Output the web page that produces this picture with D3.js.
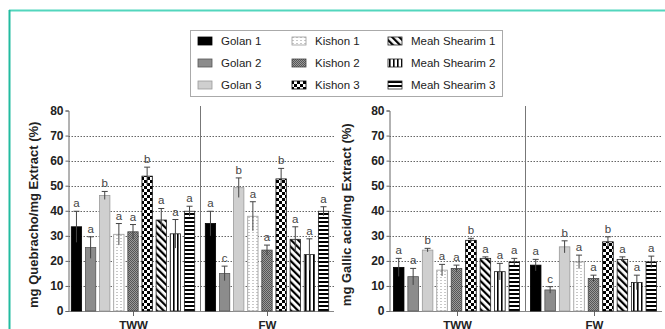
<!DOCTYPE html>
<html>
<head>
<meta charset="utf-8">
<script src="https://cdn.jsdelivr.net/npm/d3@7/dist/d3.min.js"></script>
<style>
  html, body { margin: 0; padding: 0; background: #fff; }
  svg { display: block; font-family: "Liberation Sans", Arial, sans-serif; }
</style>
</head>
<body>
<svg id="chart" width="665" height="329"></svg>
<script>
// Treatment groups and extract sources
const groups = ["TWW", "FW"];
const series = ["Golan 1", "Golan 2", "Golan 3", "Kishon 1", "Kishon 2", "Kishon 3",
                "Meah Shearim 1", "Meah Shearim 2", "Meah Shearim 3"];
const yTicks = [0, 10, 20, 30, 40, 50, 60, 70, 80];

// Condensed tannins (mg Quebracho / mg extract, %)
const quebrachoTWW    = [33.6, 25.3, 46.1, 30.6, 31.6, 53.8, 36.3, 30.8, 39.8];
const quebrachoTWWErr = [6.2, 4.3, 1.6, 4.3, 2.9, 3.6, 4.6, 5.7, 2.0];
const quebrachoTWWSig = ["a", "a", "b", "a", "a", "b", "a", "a", "a"];
const quebrachoFW     = [34.9, 15.0, 49.2, 37.8, 24.3, 52.7, 28.6, 22.5, 39.8];
const quebrachoFWErr  = [4.9, 2.9, 3.9, 5.8, 2.0, 4.2, 5.0, 6.3, 1.8];
const quebrachoFWSig  = ["a", "c", "b", "a", "a", "b", "a", "a", "a"];

// Total phenolics (mg Gallic acid / mg extract, %)
const gallicTWW    = [17.4, 13.7, 24.3, 16.3, 17.0, 28.2, 21.0, 15.7, 19.6];
const gallicTWWErr = [3.6, 3.3, 0.7, 2.3, 1.3, 0.8, 0.6, 3.3, 1.4];
const gallicTWWSig = ["a", "a", "b", "a", "a", "b", "a", "a", "a"];
const gallicFW     = [18.3, 8.4, 25.6, 19.6, 13.0, 27.6, 20.6, 11.4, 19.6];
const gallicFWErr  = [2.3, 1.3, 2.4, 2.7, 1.3, 2.0, 1.0, 2.9, 2.3];
const gallicFWSig  = ["a", "c", "b", "a", "a", "b", "a", "a", "a"];

const svg = d3.select("#chart");
const defs = svg.append("defs");

// Fill patterns for each source
function pattern(id, w, h, build, transform) {
  const p = defs.append("pattern").attr("id", id)
    .attr("patternUnits", "userSpaceOnUse").attr("width", w).attr("height", h);
  if (transform) p.attr("patternTransform", transform);
  build(p);
}
pattern("pK1", 4, 3, p => {
  p.append("rect").attr("width", 4).attr("height", 3).attr("fill", "#fff");
  p.append("rect").attr("x", 0).attr("y", 1).attr("width", 2).attr("height", 0.8).attr("fill", "#bbb");
});
pattern("pK2", 2, 2, p => {
  p.append("rect").attr("width", 2).attr("height", 2).attr("fill", "#9a9a9a");
  p.append("rect").attr("width", 1).attr("height", 1).attr("fill", "#555");
  p.append("rect").attr("x", 1).attr("y", 1).attr("width", 1).attr("height", 1).attr("fill", "#555");
});
pattern("pK3", 6, 6, p => {
  p.append("rect").attr("width", 6).attr("height", 6).attr("fill", "#fff");
  p.append("rect").attr("width", 3).attr("height", 3).attr("fill", "#000");
  p.append("rect").attr("x", 3).attr("y", 3).attr("width", 3).attr("height", 3).attr("fill", "#000");
});
pattern("pM1", 5, 5, p => {
  p.append("rect").attr("width", 5).attr("height", 5).attr("fill", "#fff");
  p.append("rect").attr("x", 0).attr("width", 2.2).attr("height", 5).attr("fill", "#000");
}, "rotate(-45)");
pattern("pM2", 4, 4, p => {
  p.append("rect").attr("width", 4).attr("height", 4).attr("fill", "#fff");
  p.append("rect").attr("x", 1).attr("width", 1.6).attr("height", 4).attr("fill", "#000");
});
pattern("pM3", 4, 4, p => {
  p.append("rect").attr("width", 4).attr("height", 4).attr("fill", "#fff");
  p.append("rect").attr("y", 1).attr("width", 4).attr("height", 2).attr("fill", "#000");
});

const fills = d3.scaleOrdinal().domain(series).range([
  "#000", "#8c8c8c", "#cfcfcf", "url(#pK1)", "url(#pK2)", "url(#pK3)",
  "url(#pM1)", "url(#pM2)", "url(#pM3)"
]);
const strokes = d3.scaleOrdinal().domain(series).range([
  "#000", "#555", "#999", "#999", "#444", "#000", "#222", "#222", "#222"
]);

// Page frame
svg.append("line").attr("x1", 9).attr("x2", 665).attr("y1", 10.5).attr("y2", 10.5)
  .attr("stroke", "#52d6bd").attr("stroke-width", 2);
svg.append("line").attr("x1", 9.5).attr("x2", 9.5).attr("y1", 10).attr("y2", 329)
  .attr("stroke", "#22bba0").attr("stroke-width", 2);

// Legend
const legend = svg.append("g");
legend.append("rect").attr("x", 190.5).attr("y", 30.5).attr("width", 312).attr("height", 66)
  .attr("fill", "#fff").attr("stroke", "#aaa").attr("stroke-width", 1);
const colX = [198, 292, 388];
const rowY = [41, 63, 85];
series.forEach((s, i) => {
  const c = Math.floor(i / 3), r = i % 3;
  const x = colX[c], y = rowY[r];
  legend.append("rect").attr("x", x).attr("y", y - 4).attr("width", 14).attr("height", 8)
    .attr("fill", fills(s)).attr("stroke", strokes(s)).attr("stroke-width", 0.8);
  legend.append("text").attr("x", x + 23).attr("y", y).attr("dy", "0.35em")
    .attr("font-size", 11.5).attr("fill", "#222").text(s);
});

function drawPanel(opts) {
  const g = svg.append("g");
  const y = d3.scaleLinear().domain([0, 80]).range([311, 110.5]);
  const x0 = d3.scaleBand().domain(groups).range(opts.range);
  const x1 = d3.scaleBand().domain(series).range([0, x0.bandwidth()])
    .paddingInner(0.27).paddingOuter(0.375);

  // dotted grid
  g.append("g").selectAll("line").data(yTicks.filter(t => t > 0 && t < 80)).join("line")
    .attr("x1", opts.axisX).attr("x2", opts.range[1])
    .attr("y1", d => Math.round(y(d)) + 0.5).attr("y2", d => Math.round(y(d)) + 0.5)
    .attr("stroke", "#666").attr("stroke-width", 1).attr("stroke-dasharray", "1.5,1.5");

  // divider between groups
  const divX = Math.round(x0("FW")) + 0.5;
  g.append("line").attr("x1", divX).attr("x2", divX).attr("y1", 106).attr("y2", y(0))
    .attr("stroke", "#777").attr("stroke-width", 1);

  // x baseline and group ticks
  g.append("line").attr("x1", opts.axisX).attr("x2", opts.range[1])
    .attr("y1", y(0) + 0.5).attr("y2", y(0) + 0.5).attr("stroke", "#888");
  groups.forEach(gr => {
    const cx = Math.round(x0(gr) + x0.bandwidth() / 2) + 0.5;
    g.append("line").attr("x1", cx).attr("x2", cx).attr("y1", y(0)).attr("y2", y(0) + 5)
      .attr("stroke", "#666");
    g.append("text").attr("x", cx).attr("y", 328.5).attr("text-anchor", "middle")
      .attr("font-size", 11.5).attr("font-weight", "bold").attr("fill", "#222").text(gr);
  });

  // y axis
  const ax = g.append("g").attr("transform", `translate(${opts.axisX},0)`)
    .call(d3.axisLeft(y).tickValues(yTicks).tickSize(3).tickPadding(2));
  ax.select(".domain").attr("stroke", "#666");
  ax.selectAll(".tick line").attr("stroke", "#666");
  ax.selectAll(".tick text").attr("font-size", 12).attr("font-weight", "bold")
    .attr("fill", "#222").attr("font-family", "Liberation Sans, Arial, sans-serif");

  // axis title
  g.append("text")
    .attr("transform", `translate(${opts.titleX},${(y(0) + y(80)) / 2 + 4}) rotate(-90)`)
    .attr("text-anchor", "middle").attr("dy", "0.35em")
    .attr("font-size", 13).attr("font-weight", "bold").attr("fill", "#222")
    .text(opts.title);

  // bars, error bars, significance letters
  groups.forEach((gr, gi) => {
    const vals = opts.values[gi], errs = opts.errors[gi], sig = opts.letters[gi];
    series.forEach((s, i) => {
      const bx = x0(gr) + x1(s), bw = x1.bandwidth();
      const cx = bx + bw / 2;
      g.append("rect").attr("x", bx).attr("y", y(vals[i]))
        .attr("width", bw).attr("height", y(0) - y(vals[i]))
        .attr("fill", fills(s)).attr("stroke", strokes(s)).attr("stroke-width", 0.8);
      const top = y(vals[i] + errs[i]), bot = y(vals[i] - errs[i]);
      g.append("line").attr("x1", cx).attr("x2", cx).attr("y1", top).attr("y2", bot)
        .attr("stroke", "#444").attr("stroke-width", 1);
      g.append("line").attr("x1", cx - 3).attr("x2", cx + 3).attr("y1", top).attr("y2", top)
        .attr("stroke", "#444").attr("stroke-width", 1);
      g.append("text").attr("x", cx).attr("y", top - 4).attr("text-anchor", "middle")
        .attr("font-size", 11.5).attr("fill", "#444").text(sig[i]);
    });
  });
}

drawPanel({
  range: [66, 334], axisX: 68.5, titleX: 33,
  title: "mg Quebracho/mg Extract (%)",
  values: [quebrachoTWW, quebrachoFW],
  errors: [quebrachoTWWErr, quebrachoFWErr],
  letters: [quebrachoTWWSig, quebrachoFWSig]
});
drawPanel({
  range: [388, 662], axisX: 389.5, titleX: 346,
  title: "mg Gallic acid/mg Extract (%)",
  values: [gallicTWW, gallicFW],
  errors: [gallicTWWErr, gallicFWErr],
  letters: [gallicTWWSig, gallicFWSig]
});
</script>
</body>
</html>
